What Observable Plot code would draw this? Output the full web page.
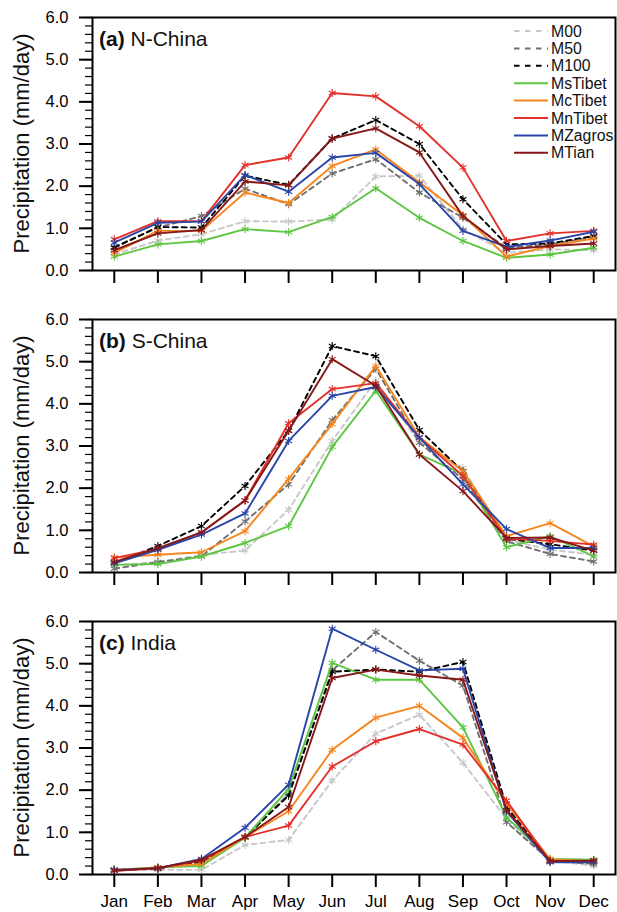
<!DOCTYPE html>
<html><head><meta charset="utf-8">
<script src="https://cdn.jsdelivr.net/npm/d3@7"></script>
<script src="https://cdn.jsdelivr.net/npm/@observablehq/plot@0.6"></script>
<style>
body{margin:0;background:#fff;font-family:"Liberation Sans",Arial,sans-serif;}
#wrap{position:relative;width:617px;height:912px;overflow:hidden;}
.panel{position:absolute;left:0;}
</style></head><body><div id="wrap"></div>
<script>
const months = ["Jan","Feb","Mar","Apr","May","Jun","Jul","Aug","Sep","Oct","Nov","Dec"];
const series = ["M00","M50","M100","MsTibet","McTibet","MnTibet","MZagros","MTian"];
const colors = ["#c8c8c8","#707070","#000000","#5cc643","#f7861f","#e3302b","#2a45a8","#861818"];
const dashes = ["5,4","5,4","5,4",null,null,null,null,null];
const yTicks = [0,1,2,3,4,5,6];
const panelTitles = [["(a)"," N-China"],["(b)"," S-China"],["(c)"," India"]];

// (a) N-China
const nChina_M00     = [0.38,0.71,0.86,1.17,1.16,1.21,2.23,2.25,0.98,0.42,0.50,0.48];
const nChina_M50     = [0.56,1.02,1.29,1.94,1.57,2.30,2.64,1.85,1.25,0.54,0.62,0.79];
const nChina_M100    = [0.54,1.03,1.02,2.25,2.03,3.13,3.57,3.00,1.69,0.62,0.64,0.82];
const nChina_MsTibet = [0.33,0.62,0.70,0.98,0.91,1.27,1.95,1.25,0.70,0.30,0.38,0.54];
const nChina_McTibet = [0.42,0.94,0.94,1.85,1.60,2.48,2.87,2.09,1.31,0.33,0.58,0.76];
const nChina_MnTibet = [0.74,1.17,1.17,2.50,2.68,4.21,4.13,3.42,2.44,0.70,0.88,0.94];
const nChina_MZagros = [0.66,1.13,1.16,2.26,1.87,2.68,2.79,2.05,0.94,0.56,0.71,0.92];
const nChina_MTian   = [0.48,0.88,0.96,2.11,2.02,3.13,3.37,2.80,1.29,0.50,0.58,0.64];

// (b) S-China
const sChina_M00     = [0.18,0.24,0.42,0.52,1.49,3.12,4.55,3.08,2.48,0.78,0.54,0.42];
const sChina_M50     = [0.09,0.25,0.38,1.21,2.09,3.61,4.83,3.08,2.21,0.74,0.44,0.26];
const sChina_M100    = [0.22,0.63,1.10,2.05,3.36,5.37,5.13,3.38,2.40,0.80,0.67,0.52];
const sChina_MsTibet = [0.18,0.20,0.38,0.70,1.10,2.98,4.31,2.80,2.33,0.60,0.86,0.38];
const sChina_McTibet = [0.36,0.42,0.48,0.98,2.22,3.52,4.90,3.21,2.40,0.86,1.17,0.62];
const sChina_MnTibet = [0.34,0.56,0.95,1.71,3.54,4.35,4.49,3.20,2.29,0.80,0.75,0.66];
const sChina_MZagros = [0.22,0.54,0.90,1.40,3.12,4.19,4.40,3.20,2.09,1.03,0.58,0.58];
const sChina_MTian   = [0.25,0.58,0.95,1.71,3.36,5.06,4.43,2.80,1.93,0.82,0.83,0.52];

// (c) India
const india_M00     = [0.11,0.11,0.11,0.70,0.82,2.23,3.34,3.79,2.65,1.32,0.33,0.21];
const india_M50     = [0.11,0.13,0.29,0.87,1.91,4.84,5.75,5.07,4.48,1.24,0.33,0.25];
const india_M100    = [0.11,0.15,0.31,0.89,1.87,4.81,4.86,4.81,5.04,1.60,0.33,0.33];
const india_MsTibet = [0.11,0.17,0.20,0.87,2.03,5.02,4.62,4.62,3.49,1.36,0.37,0.35];
const india_McTibet = [0.11,0.17,0.25,0.89,1.50,2.96,3.72,4.00,3.24,1.68,0.36,0.31];
const india_MnTibet = [0.09,0.15,0.33,0.89,1.16,2.56,3.16,3.45,3.08,1.75,0.31,0.31];
const india_MZagros = [0.11,0.15,0.37,1.11,2.13,5.83,5.33,4.84,4.88,1.50,0.29,0.29];
const india_MTian   = [0.09,0.15,0.35,0.89,1.60,4.66,4.86,4.72,4.62,1.53,0.32,0.33];

const regions = [
  [nChina_M00,nChina_M50,nChina_M100,nChina_MsTibet,nChina_McTibet,nChina_MnTibet,nChina_MZagros,nChina_MTian],
  [sChina_M00,sChina_M50,sChina_M100,sChina_MsTibet,sChina_McTibet,sChina_MnTibet,sChina_MZagros,sChina_MTian],
  [india_M00,india_M50,india_M100,india_MsTibet,india_McTibet,india_MnTibet,india_MZagros,india_MTian]
];

const FONT = "Liberation Sans, Arial, Helvetica, sans-serif";
const W = 617, ML = 92, MR = 2, MT = 17, FH = 253;
const layout = [{top: 0, height: 302}, {top: 302, height: 302}, {top: 604, height: 308}];
const monthIdx = months.map((m, i) => i + 1);
const minorTicks = d3.range(0, 31).map(i => +(i * 0.2).toFixed(1));

const wrap = document.getElementById("wrap");

regions.forEach((vals, p) => {
  const data = [];
  vals.forEach((arr, k) => arr.forEach((v, i) => data.push({m: i + 1, v, k})));
  const showX = p === 2;
  const marks = [
    Plot.axisY(minorTicks, {tickSize: 7, tickFormat: () => "", strokeWidth: 1.2, label: null}),
    Plot.axisY(yTicks, {tickSize: 13, tickPadding: 11, tickFormat: d3.format(".1f"), fontSize: 16.5, strokeWidth: 2, label: null}),
    Plot.axisX(monthIdx, {tickSize: 13, tickPadding: 7, tickFormat: showX ? (d => months[d - 1]) : (() => ""), fontSize: 17, strokeWidth: 2, label: null})
  ];
  series.forEach((s, k) => {
    const sd = data.filter(d => d.k === k);
    marks.push(Plot.line(sd, {x: "m", y: "v", stroke: colors[k], strokeWidth: 1.9, strokeDasharray: dashes[k] || undefined}));
    marks.push(Plot.dot(sd, {x: "m", y: "v", symbol: "asterisk", r: 3.8, stroke: colors[k], strokeWidth: 1.1}));
  });
  marks.push(Plot.frame({stroke: "black", strokeWidth: 2}));
  const svgEl = Plot.plot({
    width: W, height: layout[p].height,
    marginTop: MT, marginBottom: layout[p].height - MT - FH, marginLeft: ML, marginRight: MR,
    style: {fontFamily: FONT, background: "white", color: "black", overflow: "visible"},
    x: {domain: [0.5, 12.5]},
    y: {domain: [0, 6]},
    marks
  });
  const svg = d3.select(svgEl);
  // panel title
  const t = svg.append("text").attr("x", ML + 7).attr("y", MT + 29).attr("text-anchor", "start")
    .attr("font-family", FONT).attr("font-size", 21).attr("fill", "#111");
  t.append("tspan").attr("font-weight", "bold").text(panelTitles[p][0]);
  t.append("tspan").text(panelTitles[p][1]);
  // y label
  svg.append("text").attr("transform", `translate(28.5,${MT + FH / 2}) rotate(-90)`)
    .attr("text-anchor", "middle").attr("font-family", FONT).attr("font-size", 22).attr("fill", "#111")
    .text("Precipitation (mm/day)");
  // legend (panel a)
  if (p === 0) {
    const g = svg.append("g");
    series.forEach((s, k) => {
      const y = 31 + k * 17.4;
      g.append("line").attr("x1", 514).attr("x2", 548).attr("y1", y).attr("y2", y)
        .attr("stroke", colors[k]).attr("stroke-width", 2)
        .attr("stroke-dasharray", dashes[k] ? "5.5,5.5" : null);
      g.append("text").attr("x", 551).attr("y", y).attr("dy", "0.36em").attr("text-anchor", "start")
        .attr("font-family", FONT).attr("font-size", 15.8).attr("fill", "#111").text(s);
    });
  }
  const div = document.createElement("div");
  div.className = "panel";
  div.style.top = layout[p].top + "px";
  div.appendChild(svgEl);
  wrap.appendChild(div);
});
</script></body></html>
